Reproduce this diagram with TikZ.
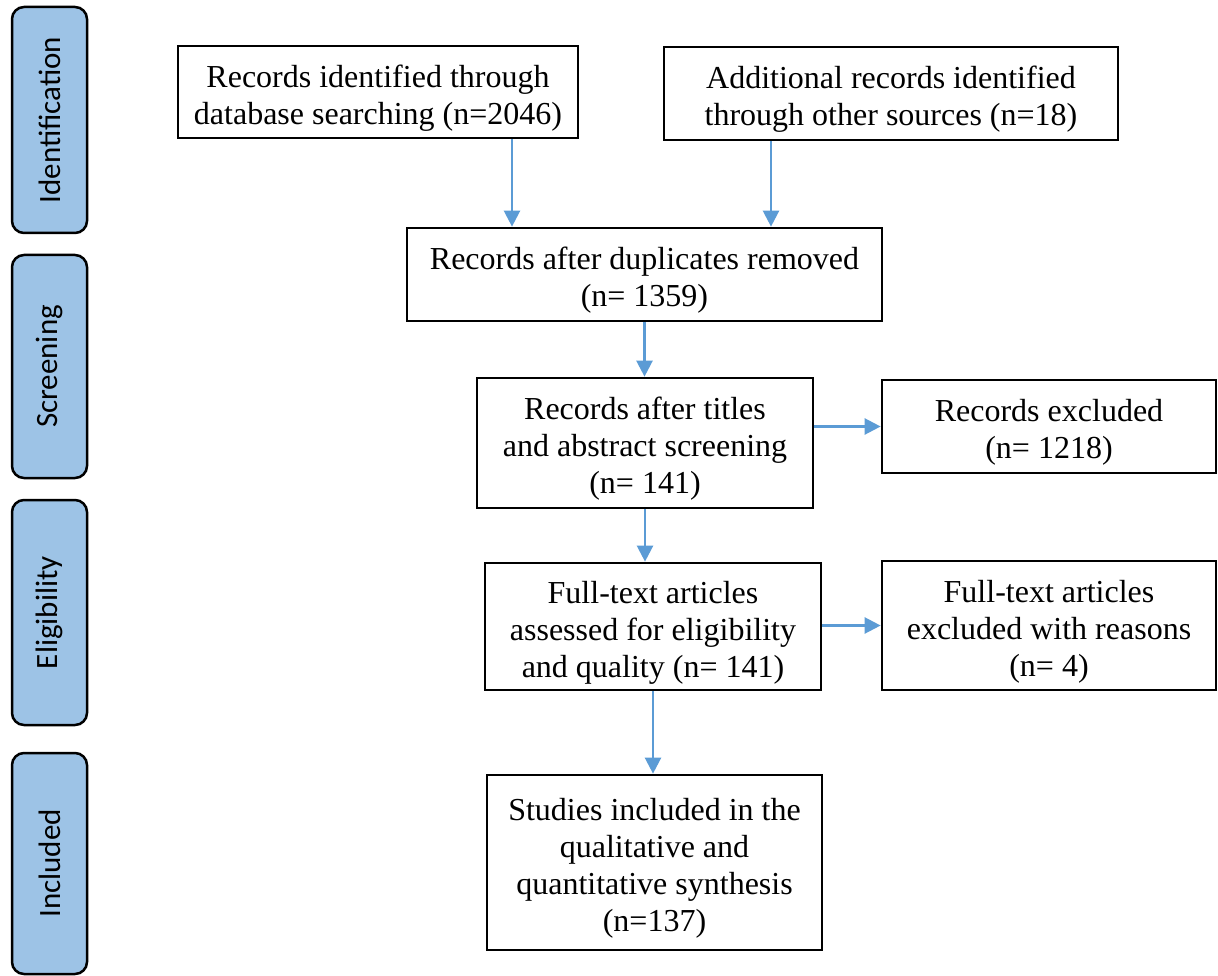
\documentclass[tikz,border=0pt]{standalone}
\usepackage{fontspec}
\setmainfont{Liberation Serif}
\newfontfamily\sidefont{Carlito}
\usetikzlibrary{arrows.meta,positioning}
\definecolor{arrowblue}{HTML}{5B9BD5}
\definecolor{sidefill}{HTML}{9DC3E6}
\newcommand{\toppad}{\rule{0pt}{34pt}}
\begin{document}
\begin{tikzpicture}[x=1pt,y=-1pt,
  flowbox/.style={draw=black, line width=2.7pt, fill=white, inner sep=0pt, align=center,
    font=\fontsize{32}{37}\selectfont},
  sidebox/.style={draw=black, line width=2.5pt, fill=sidefill, rounded corners=12pt,
    inner sep=0pt, rotate=90, minimum height=75pt, font=\sidefont\fontsize{31}{36}\selectfont},
  flowarrow/.style={draw=arrowblue, line width=2.4pt, -{Triangle[width=16pt,length=16pt]}}]
\useasboundingbox (0,0) rectangle (1218,976);

% side labels
\node[sidebox, minimum width=226pt] (sid) at (49.5,120) {Identification};
\node[sidebox, minimum width=223pt] (sscr) at (49.5,366.5) {Screening};
\node[sidebox, minimum width=225pt] (selig) at (49.5,612.5) {Eligibility};
\node[sidebox, minimum width=221pt] (sinc) at (49.5,863.5) {Included};

% flow boxes
\node[flowbox, minimum width=400pt, minimum height=92pt] (b1) at (378,92)
  {\toppad Records identified through\\database searching (n=2046)};
\node[flowbox, minimum width=454pt, minimum height=93pt] (b2) at (891,93.5)
  {\toppad Additional records identified\\through other sources (n=18)};
\node[flowbox, minimum width=475pt, minimum height=93pt] (b3) at (644.5,274.5)
  {\toppad Records after duplicates removed\\(n= 1359)};
\node[flowbox, minimum width=336pt, minimum height=130pt] (b4) at (645,443)
  {\toppad Records after titles\\and abstract screening\\(n= 141)};
\node[flowbox, minimum width=334pt, minimum height=93pt] (b5) at (1049,426.5)
  {\toppad Records excluded\\(n= 1218)};
\node[flowbox, minimum width=336pt, minimum height=127pt] (b6) at (653,626.5)
  {\toppad Full-text articles\\assessed for eligibility\\and quality (n= 141)};
\node[flowbox, minimum width=334pt, minimum height=129pt] (b7) at (1049,625.5)
  {\toppad Full-text articles\\excluded with reasons\\(n= 4)};
\node[flowbox, minimum width=335pt, minimum height=175pt] (b8) at (654.5,862.5)
  {\toppad Studies included in the\\qualitative and\\quantitative synthesis\\(n=137)};

% helper coordinates for arrow columns
\coordinate (c1) at (512,0);
\coordinate (c2) at (771,0);

% connectors
\draw[flowarrow] (b1.south -| c1) -- (b3.north -| c1);
\draw[flowarrow] (b2.south -| c2) -- (b3.north -| c2);
\draw[flowarrow] (b3.south) -- (b4.north -| b3.south);
\draw[flowarrow] (b4.south) -- (b6.north -| b4.south);
\draw[flowarrow] (b6.south) -- (b8.north -| b6.south);
\draw[flowarrow] (b5.west -| b4.east) -- (b5.west);
\draw[flowarrow] (b7.west -| b6.east) -- (b7.west);
\end{tikzpicture}
\end{document}
